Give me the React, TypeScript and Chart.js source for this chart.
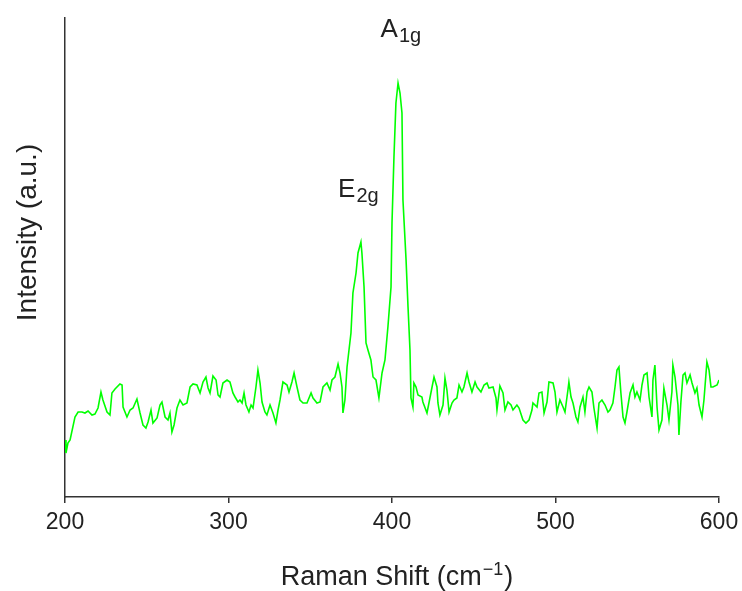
import React, { useEffect, useRef } from "react";
import { Chart, registerables } from "chart.js";

Chart.register(...registerables);

// Raman shift (cm^-1)
const ramanShift: number[] = [
  200.0, 200.6, 201.8, 203.1, 206.1, 208.0, 210.4, 212.2, 214.1, 216.5,
  218.3, 220.2, 222.0, 223.2, 225.7, 227.5, 228.7, 230.6, 233.6, 234.9,
  235.5, 237.9, 239.8, 241.6, 244.0, 245.9, 247.7, 249.5, 250.8, 252.6,
  253.8, 256.3, 258.1, 259.3, 261.2, 263.0, 264.2, 265.4, 266.7, 268.5,
  270.3, 272.2, 274.6, 276.5, 278.3, 280.7, 282.6, 284.4, 286.2, 287.5,
  288.7, 290.5, 292.4, 293.6, 294.8, 296.6, 299.1, 300.9, 302.7, 304.0,
  305.8, 307.0, 308.3, 309.5, 310.7, 312.5, 313.8, 315.0, 316.8, 318.0,
  319.3, 320.5, 322.3, 323.5, 325.4, 327.2, 329.0, 330.3, 331.5, 333.3,
  335.8, 337.0, 338.8, 340.1, 341.9, 343.7, 345.6, 348.0, 350.5, 351.7,
  354.1, 356.0, 357.8, 360.2, 362.1, 363.3, 365.1, 367.0, 368.2, 369.4,
  370.0, 371.2, 372.5, 373.7, 374.9, 376.1, 378.0, 379.2, 381.0, 381.6,
  382.9, 384.1, 385.3, 387.1, 388.4, 390.2, 392.0, 393.9, 395.7, 397.5,
  399.4, 400.0, 401.2, 402.4, 403.7, 404.9, 406.1, 406.7, 408.6, 409.8,
  411.0, 411.6, 412.8, 413.4, 414.7, 415.9, 418.3, 418.9, 421.4, 422.6,
  424.5, 425.7, 427.5, 428.1, 429.3, 431.2, 432.4, 433.6, 434.9, 436.7,
  437.9, 439.7, 441.0, 442.8, 444.0, 445.9, 447.1, 448.9, 450.8, 452.0,
  454.4, 456.3, 458.1, 459.3, 461.8, 463.6, 464.2, 466.0, 467.9, 469.1,
  470.9, 472.8, 474.0, 476.4, 477.7, 480.1, 481.9, 483.8, 485.6, 486.2,
  488.7, 489.9, 491.7, 493.0, 494.8, 496.0, 498.5, 499.7, 500.9, 502.7,
  504.6, 505.8, 507.6, 508.2, 509.5, 510.7, 512.5, 513.7, 515.0, 516.8,
  518.0, 519.3, 520.5, 522.3, 523.5, 525.4, 526.6, 528.4, 530.3, 532.1,
  533.3, 535.1, 536.4, 537.6, 538.8, 540.0, 541.3, 542.5, 543.7, 545.6,
  547.4, 548.6, 549.8, 551.7, 552.9, 554.1, 556.0, 557.2, 559.0, 559.6,
  560.8, 562.1, 563.3, 565.1, 566.3, 568.2, 569.4, 571.2, 571.8, 573.1,
  574.9, 575.5, 576.7, 578.0, 579.2, 580.4, 582.3, 583.5, 585.3, 586.5,
  587.8, 589.6, 590.8, 592.6, 593.9, 595.1, 596.3, 598.8, 600.0,
];

// Intensity (a.u.)
const intensity: number[] = [
  57, 44, 54, 57, 80, 85, 85, 84, 86, 82,
  83, 89, 105, 97, 85, 82, 104, 108, 113, 112,
  90, 80, 87, 89, 98, 84, 72, 69, 75, 87,
  74, 79, 92, 95, 80, 77, 84, 65, 72, 89,
  97, 92, 94, 110, 113, 112, 104, 115, 120, 109,
  104, 121, 117, 102, 100, 114, 117, 115, 104, 100,
  95, 97, 94, 104, 92, 85, 92, 89, 110, 127,
  114, 95, 85, 82, 92, 84, 74, 87, 97, 115,
  112, 105, 115, 124, 110, 97, 94, 94, 104, 99,
  94, 95, 110, 114, 107, 117, 120, 133, 124, 110,
  84, 97, 130, 147, 164, 204, 224, 244, 255, 244,
  210, 154, 147, 137, 120, 117, 99, 124, 137, 170,
  210, 274, 340, 394, 414, 404, 384, 297, 237, 190,
  147, 99, 90, 114, 110, 102, 100, 95, 84, 94,
  110, 120, 110, 94, 82, 92, 119, 107, 85, 94,
  97, 99, 112, 105, 110, 124, 115, 105, 115, 110,
  105, 112, 114, 109, 110, 99, 87, 111, 104, 87,
  95, 92, 87, 92, 89, 77, 74, 77, 87, 94,
  90, 104, 105, 84, 95, 115, 114, 105, 85, 97,
  90, 85, 107, 115, 100, 94, 80, 75, 90, 100,
  85, 105, 110, 105, 89, 69, 94, 97, 92, 85,
  87, 94, 110, 127, 130, 104, 80, 74, 85, 104,
  112, 100, 105, 97, 112, 122, 124, 100, 80, 117,
  132, 90, 67, 77, 109, 92, 77, 105, 132, 120,
  92, 62, 95, 122, 124, 114, 122, 114, 104, 109,
  92, 80, 97, 135, 127, 110, 110, 112, 117,
];

const xTickValues: number[] = [200, 300, 400, 500, 600];

const peakNames: string[] = ["A", "E"];
const peakSubs: string[] = ["1g", "2g"];
const peakLabelX: number[] = [393, 367];
const peakLabelY: number[] = [460, 300];

const xTitleMain = "Raman Shift (cm";
const xTitleSup = "\u22121";
const xTitleEnd = ")";
const yTitle = "Intensity (a.u.)";

const FONT = '"Liberation Sans", Arial, Helvetica, sans-serif';
const TEXT = "#222222";
const AXIS = "#333333";

const textPlugin = {
  id: "textLabels",
  afterDraw(chart: any) {
    const { ctx, scales, chartArea } = chart;
    const xs = scales.x;
    const ys = scales.y;
    ctx.save();
    ctx.fillStyle = TEXT;
    ctx.textBaseline = "alphabetic";
    ctx.textAlign = "left";

    // peak labels
    for (let i = 0; i < peakNames.length; i++) {
      const px = xs.getPixelForValue(peakLabelX[i]);
      const py = ys.getPixelForValue(peakLabelY[i]);
      ctx.font = `26px ${FONT}`;
      ctx.fillText(peakNames[i], px, py);
      const w = ctx.measureText(peakNames[i]).width;
      ctx.font = `20px ${FONT}`;
      ctx.fillText(peakSubs[i], px + w + 1, py + 5);
    }

    // x axis title with superscript
    ctx.font = `27px ${FONT}`;
    const w1 = ctx.measureText(xTitleMain).width;
    const w3 = ctx.measureText(xTitleEnd).width;
    ctx.font = `18px ${FONT}`;
    const w2 = ctx.measureText(xTitleSup).width;
    const total = w1 + w2 + w3 + 2;
    const cx = (chartArea.left + chartArea.right) / 2 + 5;
    const baseY = chart.height - 6;
    let sx = cx - total / 2;
    ctx.font = `27px ${FONT}`;
    ctx.fillText(xTitleMain, sx, baseY);
    sx += w1 + 1;
    ctx.font = `18px ${FONT}`;
    ctx.fillText(xTitleSup, sx, baseY - 10);
    sx += w2 + 1;
    ctx.font = `27px ${FONT}`;
    ctx.fillText(xTitleEnd, sx, baseY);

    // y axis title
    ctx.save();
    ctx.translate(36, (chartArea.top + chartArea.bottom) / 2 - 25);
    ctx.rotate(-Math.PI / 2);
    ctx.textAlign = "center";
    ctx.font = `28px ${FONT}`;
    ctx.fillText(yTitle, 0, 0);
    ctx.restore();

    ctx.restore();
  },
};

export default function App() {
  const canvasRef = useRef<HTMLCanvasElement | null>(null);

  useEffect(() => {
    document.body.style.margin = "0";
    const canvas = canvasRef.current;
    if (!canvas) return;
    const points = ramanShift.map((x, i) => ({ x, y: intensity[i] }));
    const chart = new Chart(canvas, {
      type: "line",
      data: {
        datasets: [
          {
            data: points,
            borderColor: "#00ff00",
            borderWidth: 1.6,
            pointRadius: 0,
            tension: 0,
            fill: false,
          },
        ],
      },
      options: {
        responsive: false,
        animation: false,
        devicePixelRatio: 1,
        layout: { padding: { top: 18, right: 23, left: 0, bottom: 0 } },
        plugins: {
          legend: { display: false },
          tooltip: { enabled: false },
        },
        scales: {
          x: {
            type: "linear",
            min: 200,
            max: 600,
            afterBuildTicks: (scale: any) => {
              scale.ticks = xTickValues.map((v) => ({ value: v }));
            },
            afterFit: (scale: any) => {
              scale.height = 94;
              scale.paddingLeft = 0;
              scale.paddingRight = 0;
            },
            ticks: {
              color: TEXT,
              font: { family: FONT, size: 23 },
              padding: 6,
              maxRotation: 0,
            },
            grid: {
              display: true,
              drawOnChartArea: false,
              drawTicks: true,
              tickLength: 6,
              color: AXIS,
              lineWidth: 1.5,
            },
            border: { display: true, color: AXIS, width: 1.5 },
            title: { display: false },
          },
          y: {
            type: "linear",
            min: 0,
            max: 479,
            afterFit: (scale: any) => {
              scale.width = 65;
              scale.paddingTop = 0;
              scale.paddingBottom = 0;
            },
            ticks: { display: false },
            grid: { display: false, drawTicks: false },
            border: { display: true, color: AXIS, width: 1.5 },
            title: { display: false },
          },
        },
      },
      plugins: [textPlugin],
    } as any);
    return () => chart.destroy();
  }, []);

  return (
    <div style={{ width: 742, height: 591, background: "#fff" }}>
      <canvas ref={canvasRef} width={742} height={591} />
    </div>
  );
}
